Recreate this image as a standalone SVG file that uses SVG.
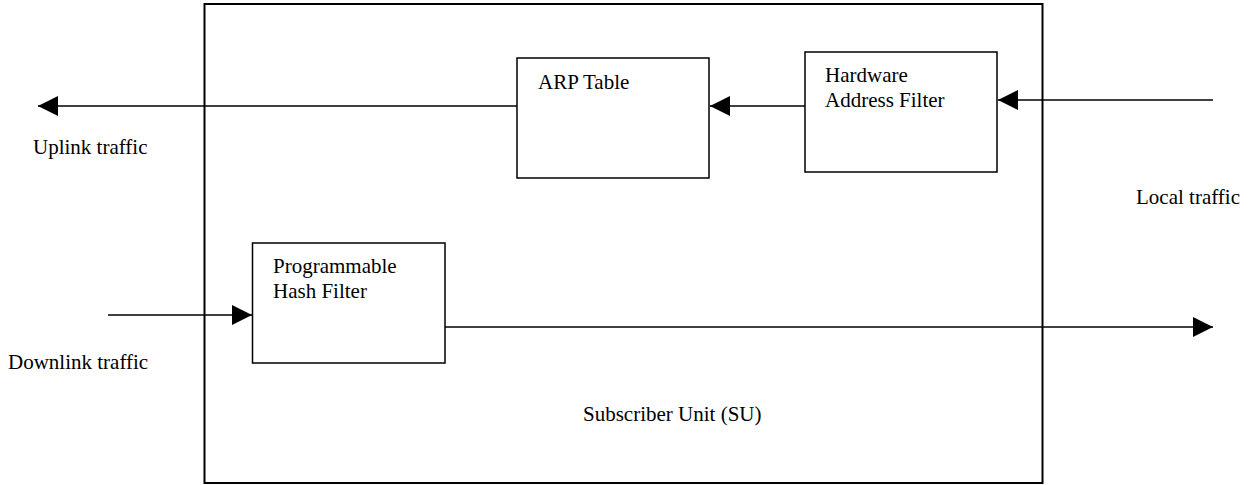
<svg xmlns="http://www.w3.org/2000/svg" width="1248" height="485" viewBox="0 0 1248 485">
<style>
.box{fill:#fff;stroke:#000;stroke-width:1.5}
.outer{fill:none;stroke:#000;stroke-width:2}
.ln{stroke:#000;stroke-width:1.5;fill:none}
text{font-family:"Liberation Serif","Times New Roman",serif;font-size:21px;fill:#000}
</style>
<defs>
<marker id="ah" markerWidth="20" markerHeight="20" refX="20" refY="10" orient="auto" markerUnits="userSpaceOnUse">
<path d="M0,0 L20,10 L0,20 Z" fill="#000"/>
</marker>
</defs>
<g id="su">
<rect class="outer" x="204.5" y="4" width="838" height="479"/>
<text x="583" y="421">Subscriber Unit (SU)</text>
</g>
<g id="arp">
<rect class="box" x="517" y="58" width="192" height="120"/>
<text x="538" y="89">ARP Table</text>
</g>
<g id="hwfilter">
<rect class="box" x="805" y="52" width="192" height="120"/>
<text x="825" y="82">Hardware</text>
<text x="825" y="107">Address Filter</text>
</g>
<g id="hashfilter">
<rect class="box" x="252.5" y="243" width="192.5" height="120"/>
<text x="273" y="273">Programmable</text>
<text x="273" y="298">Hash Filter</text>
</g>
<g id="labels">
<text x="33" y="154">Uplink traffic</text>
<text x="1136" y="204">Local traffic</text>
<text x="8" y="369">Downlink traffic</text>
</g>
<g id="connectors">
<line class="ln" x1="517" y1="106" x2="38" y2="106" marker-end="url(#ah)"/>
<line class="ln" x1="805" y1="106" x2="710" y2="106" marker-end="url(#ah)"/>
<line class="ln" x1="1213" y1="100" x2="998" y2="100" marker-end="url(#ah)"/>
<line class="ln" x1="108" y1="315" x2="252" y2="315" marker-end="url(#ah)"/>
<line class="ln" x1="445" y1="327" x2="1213" y2="327" marker-end="url(#ah)"/>
</g>
</svg>
